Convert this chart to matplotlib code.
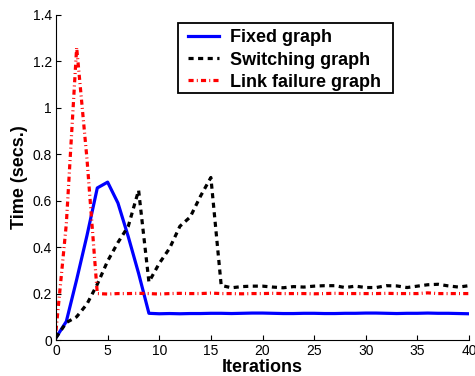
import matplotlib
matplotlib.use("Agg")
import matplotlib.pyplot as plt
from matplotlib.patches import Rectangle

plt.rcParams['font.family'] = ['Liberation Sans', 'DejaVu Sans']

iterations = list(range(0, 41))

fixed = [0.01, 0.08, 0.26, 0.45, 0.655, 0.68, 0.59, 0.445, 0.287, 0.115,
         0.113, 0.114, 0.113, 0.114, 0.114, 0.115, 0.115, 0.114, 0.115, 0.116,
         0.116, 0.115, 0.114, 0.114, 0.115, 0.115, 0.114, 0.114, 0.115, 0.115,
         0.116, 0.116, 0.115, 0.114, 0.115, 0.115, 0.116, 0.115, 0.115, 0.114,
         0.113]

switching = [0.01, 0.075, 0.10, 0.155, 0.24, 0.34, 0.42, 0.49, 0.645, 0.25,
             0.33, 0.395, 0.49, 0.53, 0.62, 0.70, 0.235, 0.225, 0.23, 0.232,
             0.232, 0.228, 0.225, 0.23, 0.228, 0.232, 0.234, 0.234, 0.226, 0.232,
             0.226, 0.226, 0.234, 0.233, 0.226, 0.232, 0.238, 0.24, 0.233, 0.228,
             0.234]

link_failure = [0.04, 0.5, 1.26, 0.78, 0.2, 0.198, 0.2, 0.2, 0.201, 0.2,
                0.198, 0.2, 0.201, 0.2, 0.2, 0.202, 0.2, 0.2, 0.199, 0.2,
                0.2, 0.201, 0.2, 0.2, 0.2, 0.199, 0.2, 0.201, 0.2, 0.2,
                0.2, 0.2, 0.201, 0.2, 0.2, 0.2, 0.203, 0.2, 0.2, 0.2,
                0.2]

labels = ['Fixed graph', 'Switching graph', 'Link failure graph']
xticks = [0, 5, 10, 15, 20, 25, 30, 35, 40]
yticks = [0, 0.2, 0.4, 0.6, 0.8, 1.0, 1.2, 1.4]
yticklabels = ['0', '0.2', '0.4', '0.6', '0.8', '1', '1.2', '1.4']

W, H = 475, 376
fig = plt.figure(figsize=(W / 100, H / 100), dpi=100)
ax = fig.add_axes([56 / W, 36 / H, 413 / W, 325 / H])

lw = 2.3
ax.plot(iterations, fixed, color='#0000ff', lw=lw, label=labels[0])
ax.plot(iterations, switching, color='black', lw=lw, dashes=(1.6, 1.4), label=labels[1])
ax.plot(iterations, link_failure, color='#ff0000', lw=lw, dashes=(1.6, 1.0, 0.3, 1.0), label=labels[2])

ax.set_xlim(0, 40)
ax.set_ylim(0, 1.4)
ax.set_xticks(xticks)
ax.set_xticklabels([str(t) for t in xticks])
ax.set_yticks(yticks)
ax.set_yticklabels(yticklabels)
ax.tick_params(direction='in', length=3.5, width=0.8, labelsize=10, pad=3)
ax.spines['top'].set_visible(False)
ax.spines['right'].set_visible(False)

ax.set_xlabel('Iterations', fontsize=13, fontweight='bold', labelpad=0.5)
ax.set_ylabel('Time (secs.)', fontsize=13, fontweight='bold', labelpad=3)

leg = ax.legend(loc='upper left', bbox_to_anchor=((187.5 - 56) / 413, (340 - 29.5) / 325),
                borderaxespad=0, borderpad=0, frameon=False,
                prop={'size': 13, 'weight': 'bold'},
                handlelength=1.75, handletextpad=0.6, labelspacing=0.28)

# legend frame (square, as in the reference)
fig.patches.append(Rectangle((177.5 / W, (H - 93) / H), 215 / W, 69.5 / H,
                             transform=fig.transFigure, fill=False,
                             edgecolor='black', lw=1.3, zorder=5))

fig.savefig('out.png', dpi=100)
